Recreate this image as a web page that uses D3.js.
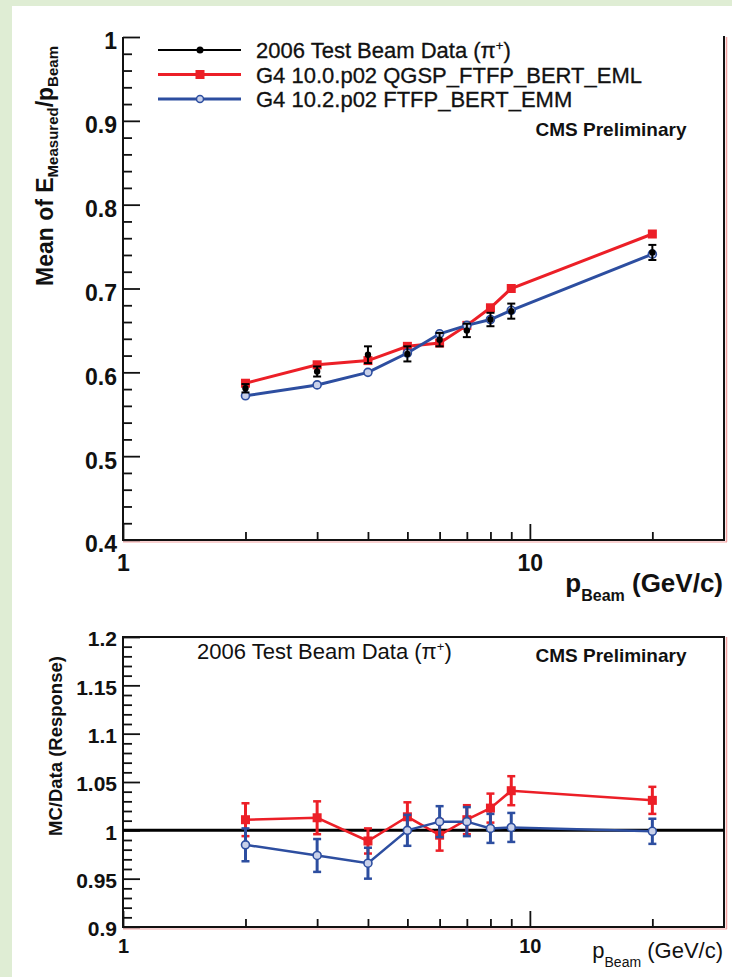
<!DOCTYPE html>
<html>
<head>
<meta charset="utf-8">
<script src="https://cdn.jsdelivr.net/npm/d3@7.9.0/dist/d3.min.js"></script>
<style>
  body { margin: 0; background: #dfedd4; }
  svg { display: block; font-family: "Liberation Sans", Arial, sans-serif; }
</style>
</head>
<body>
<svg id="chart" width="732" height="977"></svg>
<script>
// beam momenta (GeV/c)
const pBeam = [2, 3, 4, 5, 6, 7, 8, 9, 20];

// top panel: mean response
const dataMean = [0.581, 0.601, 0.621, 0.622, 0.639, 0.650, 0.663, 0.673, 0.743];
const dataErr  = [0.005, 0.006, 0.010, 0.009, 0.008, 0.008, 0.008, 0.009, 0.009];
const emlMean  = [0.587, 0.609, 0.614, 0.631, 0.635, 0.656, 0.677, 0.700, 0.765];
const emmMean  = [0.572, 0.585, 0.600, 0.623, 0.646, 0.656, 0.663, 0.674, 0.741];

// bottom panel: MC / data
const emlRatio    = [1.011, 1.013, 0.989, 1.014, 0.995, 1.011, 1.023, 1.041, 1.031];
const emlRatioErr = [0.017, 0.017, 0.013, 0.015, 0.016, 0.015, 0.015, 0.015, 0.014];
const emmRatio    = [0.985, 0.974, 0.966, 1.000, 1.009, 1.009, 1.002, 1.003, 0.999];
const emmRatioErr = [0.017, 0.017, 0.016, 0.016, 0.016, 0.015, 0.015, 0.015, 0.013];

const legendLabels = ['2006 Test Beam Data', 'G4 10.0.p02 QGSP_FTFP_BERT_EML', 'G4 10.2.p02 FTFP_BERT_EMM'];
const xMajor = [1, 10];
const xMinor = [2, 3, 4, 5, 6, 7, 8, 9, 20];

const RED = '#ec1f27', BLUE = '#2d4ea0', INK = '#111';

const svg = d3.select('#chart');
svg.append('rect').attr('x', 12).attr('y', 6).attr('width', 720).attr('height', 971).attr('fill', '#fff');

const x = d3.scaleLog().domain([1, 30]).range([123, 724]);
const yTop = d3.scaleLinear().domain([0.4, 1.0]).range([540, 37]);
const yBot = d3.scaleLinear().domain([0.9, 1.2]).range([927, 637]);

function styleAxis(g, size, weight) {
    g.select('.domain').remove();
    g.selectAll('line').attr('stroke', INK).attr('stroke-width', 1.8);
    g.selectAll('text').attr('fill', INK).attr('font-size', size).attr('font-weight', weight)
        .attr('font-family', '"Liberation Sans", Arial, sans-serif');
}

function drawFrame(y, bottomY, topY, withTop, yMajor, yMinor, ySize, yPad, yDy, xPad, xSize, xWeight) {
    // x ticks
    svg.append('g').attr('transform', `translate(0,${bottomY})`)
        .call(d3.axisBottom(x).tickValues(xMinor).tickSize(-8).tickFormat(''))
        .call(g => styleAxis(g, xSize, xWeight));
    svg.append('g').attr('transform', `translate(0,${bottomY})`)
        .call(d3.axisBottom(x).tickValues(xMajor).tickSize(-16).tickPadding(xPad).tickFormat(d3.format('d')))
        .call(g => styleAxis(g, xSize, xWeight));
    // y ticks
    svg.append('g').attr('transform', `translate(123,0)`)
        .call(d3.axisLeft(y).tickValues(yMinor).tickSize(-9).tickFormat(''))
        .call(g => styleAxis(g, ySize, 'bold'));
    const ya = svg.append('g').attr('transform', `translate(123,0)`)
        .call(d3.axisLeft(y).tickValues(yMajor).tickSize(-17).tickPadding(yPad).tickFormat(d => +d.toFixed(2)))
        .call(g => styleAxis(g, ySize, 'bold'));
    ya.selectAll('text').attr('dy', yDy);
    // frame
    svg.append('line').attr('x1', 726.5).attr('x2', 726.5).attr('y1', topY).attr('y2', bottomY + 2)
        .attr('stroke', '#f3a3a3').attr('stroke-width', 1.5);
    svg.append('line').attr('x1', 123).attr('x2', 727).attr('y1', bottomY + 2).attr('y2', bottomY + 2)
        .attr('stroke', '#f3a3a3').attr('stroke-width', 1);
    const path = withTop
        ? `M123,${topY}H724V${bottomY}H123Z`
        : `M123,${topY}V${bottomY}H724V${topY - 1}`;
    svg.append('path').attr('d', path).attr('fill', 'none').attr('stroke', INK).attr('stroke-width', 2);
}

const topMinor = d3.range(0.42, 1.0, 0.02).filter(v => Math.abs(v * 10 - Math.round(v * 10)) > 1e-6);
const botMinor = d3.range(0.91, 1.2, 0.01).filter(v => Math.abs(v * 20 - Math.round(v * 20)) > 1e-6);

drawFrame(yTop, 540, 37, false, [0.4, 0.5, 0.6, 0.7, 0.8, 0.9, 1.0], topMinor, 23, 6, '0.52em', 15, 23, 'bold');
drawFrame(yBot, 927, 637, true, [0.9, 0.95, 1.0, 1.05, 1.1, 1.15, 1.2], botMinor, 21, 6, '0.42em', 12, 20, 'bold');

// ---------- marks ----------
const line = (yy, vals) => d3.line().x((d, i) => x(pBeam[i])).y(d => yy(d))(vals);

function drawSeries(yy, vals, errs, color, marker, lw) {
    const g = svg.append('g');
    g.append('path').attr('d', line(yy, vals)).attr('fill', 'none').attr('stroke', color).attr('stroke-width', lw);
    if (errs) {
        vals.forEach((v, i) => {
            const px = x(pBeam[i]), y1 = yy(v + errs[i]), y2 = yy(v - errs[i]);
            g.append('line').attr('x1', px).attr('x2', px).attr('y1', y1).attr('y2', y2).attr('stroke', color).attr('stroke-width', 3);
            [y1, y2].forEach(yc => g.append('line').attr('x1', px - 4).attr('x2', px + 4).attr('y1', yc).attr('y2', yc)
                .attr('stroke', color).attr('stroke-width', 2.5));
        });
    }
    vals.forEach((v, i) => {
        const px = x(pBeam[i]), py = yy(v);
        if (marker === 'square') {
            g.append('rect').attr('x', px - 4.5).attr('y', py - 4.5).attr('width', 9).attr('height', 9).attr('fill', color);
        } else {
            g.append('circle').attr('cx', px).attr('cy', py).attr('r', 4).attr('fill', '#c9d1ea')
                .attr('stroke', color).attr('stroke-width', 1.6);
        }
    });
}

drawSeries(yTop, emlMean, null, RED, 'square', 3);
drawSeries(yTop, emmMean, null, BLUE, 'circle', 3);

// test beam data
const dg = svg.append('g');
dataMean.forEach((v, i) => {
    const px = x(pBeam[i]), y1 = yTop(v + dataErr[i]), y2 = yTop(v - dataErr[i]);
    dg.append('line').attr('x1', px).attr('x2', px).attr('y1', y1).attr('y2', y2).attr('stroke', '#000').attr('stroke-width', 2);
    [y1, y2].forEach(yc => dg.append('line').attr('x1', px - 4).attr('x2', px + 4).attr('y1', yc).attr('y2', yc)
        .attr('stroke', '#000').attr('stroke-width', 2));
    dg.append('circle').attr('cx', px).attr('cy', yTop(v)).attr('r', 3.2).attr('fill', '#000');
});

svg.append('line').attr('x1', 123).attr('x2', 724).attr('y1', yBot(1)).attr('y2', yBot(1))
    .attr('stroke', '#000').attr('stroke-width', 3);
drawSeries(yBot, emlRatio, emlRatioErr, RED, 'square', 2.5);
drawSeries(yBot, emmRatio, emmRatioErr, BLUE, 'circle', 2.5);

// ---------- legend ----------
const legend = svg.append('g');
const legendColors = ['#000', RED, BLUE];
const legendMarks = ['dot', 'square', 'circle'];
legendLabels.forEach((label, i) => {
    const ly = 50 + i * 24.5;
    legend.append('line').attr('x1', 158).attr('x2', 241).attr('y1', ly).attr('y2', ly)
        .attr('stroke', legendColors[i]).attr('stroke-width', i === 0 ? 2 : 3);
    if (legendMarks[i] === 'dot') {
        legend.append('circle').attr('cx', 200).attr('cy', ly).attr('r', 3.5).attr('fill', '#000');
    } else if (legendMarks[i] === 'square') {
        legend.append('rect').attr('x', 195.5).attr('y', ly - 4.5).attr('width', 9).attr('height', 9).attr('fill', RED);
    } else {
        legend.append('circle').attr('cx', 200).attr('cy', ly).attr('r', 3.5).attr('fill', '#c9d1ea')
            .attr('stroke', BLUE).attr('stroke-width', 1.5);
    }
    const t = legend.append('text').attr('x', 256).attr('y', ly + 8).attr('font-size', 22).attr('fill', INK)
        .attr('stroke', INK).attr('stroke-width', 0.3).text(label);
    if (i === 0) {
        t.append('tspan').text(' (π');
        t.append('tspan').attr('dy', -8).attr('font-size', 13).text('+');
        t.append('tspan').attr('dy', 8).text(')');
    }
});

// ---------- texts ----------
svg.append('text').attr('x', 611).attr('y', 136).attr('text-anchor', 'middle').attr('font-size', 19)
    .attr('font-weight', 'bold').attr('fill', INK).text('CMS Preliminary');
svg.append('text').attr('x', 611).attr('y', 662).attr('text-anchor', 'middle').attr('font-size', 19)
    .attr('font-weight', 'bold').attr('fill', INK).text('CMS Preliminary');

const bt = svg.append('text').attr('x', 197).attr('y', 659).attr('font-size', 22).attr('fill', INK).text('2006 Test Beam Data (π');
bt.append('tspan').attr('dy', -8).attr('font-size', 13).text('+');
bt.append('tspan').attr('dy', 8).text(')');

// y titles
const yt = svg.append('text').attr('transform', 'translate(53,286) rotate(-90)').attr('font-size', 23)
    .attr('font-weight', 'bold').attr('fill', INK);
yt.append('tspan').text('Mean of E');
yt.append('tspan').attr('dy', 5).attr('font-size', 15).text('Measured');
yt.append('tspan').attr('dy', -5).text('/p');
yt.append('tspan').attr('dy', 5).attr('font-size', 15).text('Beam');

svg.append('text').attr('transform', 'translate(62,836) rotate(-90)').attr('font-size', 18.5)
    .attr('font-weight', 'bold').attr('fill', INK).text('MC/Data (Response)');

// x titles
const xt = svg.append('text').attr('x', 723).attr('y', 592).attr('text-anchor', 'end').attr('font-size', 26)
    .attr('font-weight', 'bold').attr('fill', INK);
xt.append('tspan').text('p');
xt.append('tspan').attr('dy', 9).attr('font-size', 16).text('Beam');
xt.append('tspan').attr('dy', -9).text(' (GeV/c)');

const xb = svg.append('text').attr('x', 723).attr('y', 958).attr('text-anchor', 'end').attr('font-size', 22)
    .attr('fill', INK);
xb.append('tspan').text('p');
xb.append('tspan').attr('dy', 9).attr('font-size', 14).text('Beam');
xb.append('tspan').attr('dy', -9).text(' (GeV/c)');
</script>
</body>
</html>
